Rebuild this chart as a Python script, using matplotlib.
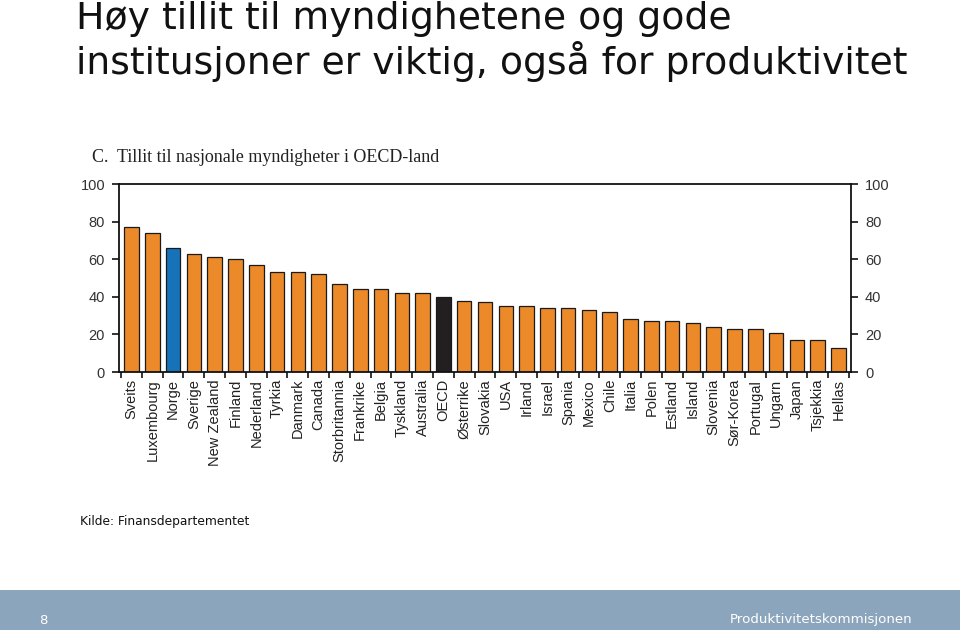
import matplotlib
matplotlib.use("Agg")
import matplotlib.pyplot as plt
from matplotlib.patches import Rectangle
from matplotlib import font_manager

countries = ["Sveits", "Luxembourg", "Norge", "Sverige", "New Zealand", "Finland",
             "Nederland", "Tyrkia", "Danmark", "Canada", "Storbritannia", "Frankrike",
             "Belgia", "Tyskland", "Australia", "OECD", "Østerrike", "Slovakia", "USA",
             "Irland", "Israel", "Spania", "Mexico", "Chile", "Italia", "Polen", "Estland",
             "Island", "Slovenia", "Sør-Korea", "Portugal", "Ungarn", "Japan", "Tsjekkia",
             "Hellas"]
values = [77, 74, 66, 63, 61, 60, 57, 53, 53, 52, 47, 44, 44, 42, 42, 40, 38, 37, 35,
          35, 34, 34, 33, 32, 28, 27, 27, 26, 24, 23, 23, 21, 17, 17, 13]
yticks = [0, 20, 40, 60, 80, 100]

names = {f.name for f in font_manager.fontManager.ttflist}
footer_font = "Liberation Sans Narrow" if "Liberation Sans Narrow" in names else "DejaVu Sans"
footer_size = 12 if footer_font == "Liberation Sans Narrow" else 9.6

orange = "#EC8A2A"
colors = []
for c in countries:
    if c == "Norge":
        colors.append("#1673BA")
    elif c == "OECD":
        colors.append("#231F20")
    else:
        colors.append(orange)

fig = plt.figure(figsize=(9.6, 6.3), dpi=100)
fig.patch.set_facecolor("white")

# Title
fig.text(76/960, 1 - 19/630, "Høy tillit til myndighetene og gode",
         fontsize=27.2, family="DejaVu Sans", color="#111111", va="center", ha="left")
fig.text(76/960, 1 - 62/630, "institusjoner er viktig, også for produktivitet",
         fontsize=27.2, family="DejaVu Sans", color="#111111", va="center", ha="left")

# Subtitle
fig.text(92/960, 1 - 157/630, "C.  Tillit til nasjonale myndigheter i OECD-land",
         fontsize=13, family="Liberation Serif", color="#222222", va="center", ha="left")

ax = fig.add_axes([119/960, 1 - 372/630, (851 - 119)/960, (372 - 184)/630])
x = range(len(countries))
ax.bar(x, values, width=0.7, color=colors, edgecolor="#1a1a1a", linewidth=0.9)
ax.set_xlim(-0.6, len(countries) - 0.4)
ax.set_ylim(0, 100)

ax.set_xticks([i + 0.5 for i in range(-1, len(countries))], minor=True)
ax.set_xticks(list(x))
ax.set_xticklabels(countries, rotation=90, fontsize=10.5, family="Liberation Sans",
                   color="#222222")
ax.tick_params(axis="x", which="major", length=0, pad=5)
ax.tick_params(axis="x", which="minor", length=4, width=1.2, direction="out", color="#111111")

ax.set_yticks(yticks)
ax.set_yticklabels([str(v) for v in yticks], fontsize=10.5, family="Liberation Sans",
                   color="#333333")
ax.tick_params(axis="y", which="major", length=5, width=1.2, direction="out",
               left=True, right=True, labelleft=True, labelright=True, pad=5,
               color="#111111")
for s in ["top", "left", "right", "bottom"]:
    ax.spines[s].set_linewidth(1.3)
    ax.spines[s].set_color("#111111")

# Source
fig.text(80/960, 1 - 522/630, "Kilde: Finansdepartementet", fontsize=8.8,
         family="DejaVu Sans", color="#111111", va="center", ha="left")

# Footer band
fig.patches.append(Rectangle((0, 0), 1, 40/630, transform=fig.transFigure,
                             facecolor="#8BA5BD", edgecolor="none", zorder=0))
fig.text(39/960, 1 - 620/630, "8", fontsize=footer_size, family=footer_font,
         color="white", va="center", ha="left")
fig.text(912/960, 1 - 620/630, "Produktivitetskommisjonen", fontsize=footer_size,
         family=footer_font, color="white", va="center", ha="right")

fig.savefig("out.png", dpi=100)
